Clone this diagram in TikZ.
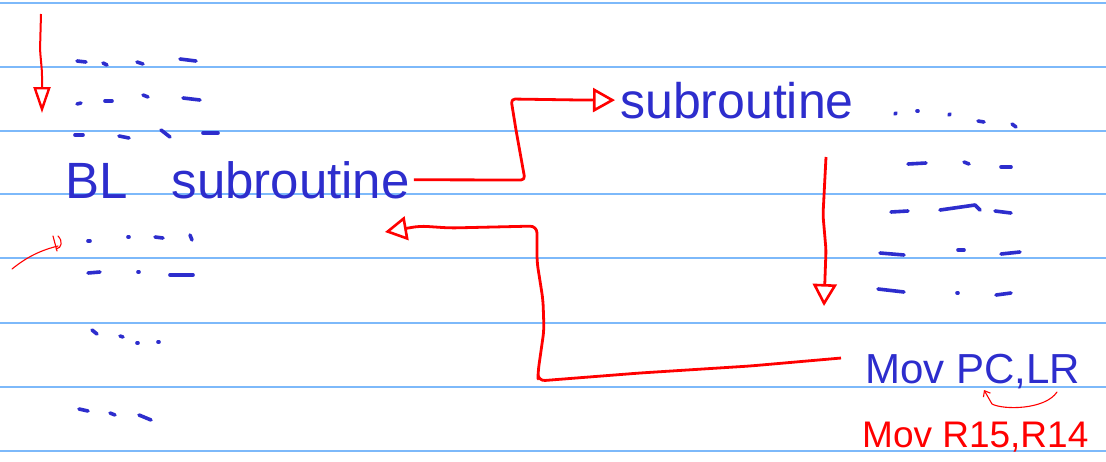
\documentclass[tikz,border=0pt]{standalone}
\usepackage{fontspec}
\setmainfont{Liberation Sans}
\usetikzlibrary{arrows.meta}
\definecolor{rulecol}{RGB}{125,185,250}
\definecolor{ink}{RGB}{45,45,205}
\definecolor{pen}{RGB}{255,0,0}
\begin{document}
\begin{tikzpicture}[x=1pt,y=-1pt,
  paperline/.style={rulecol, line width=2pt},
  scribble/.style={ink, line width=3.6pt, line cap=round},
  hand/.style={ink, inner sep=0pt, anchor=base west},
  redarrow/.style={pen, line width=2.8pt, line join=round, rounded corners=4pt,
     -{Triangle[open, length=22pt, width=24pt, line width=2.6pt]}},
  thinpen/.style={pen, line width=1.1pt, line cap=round}
]
\useasboundingbox (0,0) rectangle (1106,461);
\fill[white] (0,0) rectangle (1106,461);
% ruled paper
\foreach \y in {3,67,131,194,258,323,387,451}
  \draw[paperline] (0,\y) -- (1106,\y);

% texts
\node[hand, font=\fontsize{51}{51}\selectfont] (bl) at (65,198) {BL\hspace{44pt}subroutine};
\node[hand, font=\fontsize{50}{50}\selectfont] (sub) at (620,118) {subroutine};
\node[hand, font=\fontsize{42}{42}\selectfont] (mov) at (865,383) {Mov PC,LR};
\node[hand, pen, font=\fontsize{37}{37}\selectfont] (mov2) at (862,447) {Mov R15,R14};

% placeholder scribbles (left column)
\foreach \x/\y/\u/\v in {
  77/61/86/62, 103/63/107/65, 137/62/143/64, 180/59/196/61,
  77/104/81/103, 105/101/112/101, 143/95/148/97, 183/98/200/100,
  75/135/83/135, 119/136/129/138, 161/130/170/137, 203/133/218/133,
  88/241/90/241, 128/237/129/237, 155/237/163/238, 190/235/192/240,
  88/273/100/272, 138/272/139/272, 170/275/193/275,
  92/330/97/334, 120/336/123/337, 137/343/138/343, 158/342/159/342,
  79/409/88/411, 110/413/115/415, 139/415/151/420,
  % right column
  895/114/896/113, 917/111/918/111, 949/115/950/114, 978/121/984/122, 1012/124/1016/127,
  908/164/926/163, 964/162/969/164, 1001/167/1011/167,
  891/212/908/211, 995/211/1011/213,
  880/253/904/255, 958/250/964/250, 1001/254/1020/252,
  878/289/904/292, 957/293/958/293, 996/295/1011/293}
  \draw[scribble] (\x,\y) -- (\u,\v);
\draw[scribble, line join=round] (940,210) -- (975,205) -- (980,210);

% red arrows
\coordinate (a1) at (41,14);
\coordinate (a2) at (42,113);
\draw[redarrow, line width=2pt, -{Triangle[open, length=26pt, width=17pt, line width=2.4pt]}]
  (a1) -- (40,50) -- (42,72) -- (a2);

\draw[redarrow] ([xshift=4pt]bl.east) -- (525,180) -- (516,130) -- (511,99) -- (580,100) -- ([xshift=-5pt]sub.west);

\coordinate (d1) at (826,157);
\coordinate (d2) at (824,306);
\draw[redarrow] (d1) -- (823,215) -- (826,250) -- (d2);

\coordinate (ret) at (385,232);
\draw[redarrow, rounded corners=7pt] ([shift={(-24,-13)}]mov.west) -- (750,366) -- (640,373) -- (538,381)
  -- (538,372) -- (544,330) -- (543,300) -- (537,262) -- (537,226) -- (450,228) -- (420,226) -- (ret);

% small arrow LR -> PC
\coordinate (lr) at (1057,392);
\coordinate (pc) at (984,390);
\draw[thinpen, -{Straight Barb[length=5pt, width=8pt]}]
  (lr) .. controls (1045,410) and (1003,410) .. (992,404) -- (pc);

% small red tick on the left
\draw[thinpen] (12,269) .. controls (28,256) and (42,250) .. (58,246);
\draw[thinpen] (53,236) -- (57,251);
\draw[thinpen] (58,236) .. controls (63,241) and (62,248) .. (56,249);
\end{tikzpicture}
\end{document}
